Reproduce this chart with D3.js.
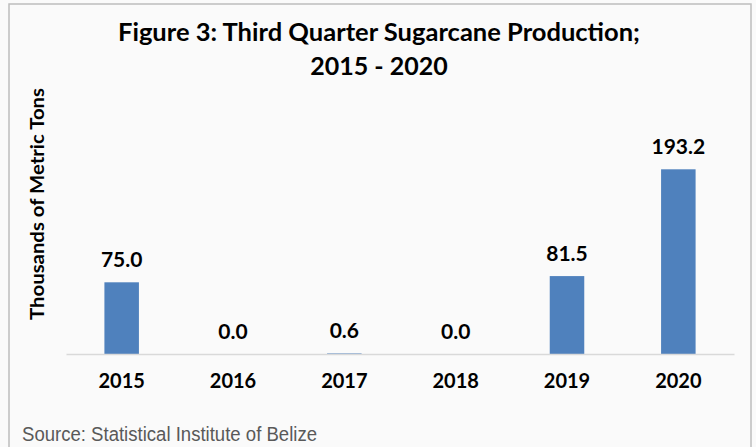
<!DOCTYPE html>
<html><head><meta charset="utf-8">
<script src="https://cdn.jsdelivr.net/npm/d3@7"></script>
<style>html,body{margin:0;padding:0;background:#fafafa;}svg{display:block;}</style>
</head><body>
<svg id="c" width="756" height="447"></svg>
<script>
const categories = ["2015","2016","2017","2018","2019","2020"];
const values = [75.0, 0.0, 0.6, 0.0, 81.5, 193.2];
const valueLabels = ["75.0","0.0","0.6","0.0","81.5","193.2"];
const titleLines = ["Figure 3: Third Quarter Sugarcane Production;", "2015 - 2020"];
const yTitle = "Thousands of Metric Tons";
const source = "Source: Statistical Institute of Belize";

const svg = d3.select("#c");
const font = "Lato, 'Open Sans', sans-serif";
svg.append("rect").attr("x",0).attr("y",0).attr("width",756).attr("height",447).attr("fill","#fafafa");
svg.append("rect").attr("x",9).attr("y",4).attr("width",742).attr("height",460)
  .attr("fill","#fafafa").attr("stroke","#bdbdbd").attr("stroke-width",1.5);

const x = d3.scaleBand().domain(categories).range([66,734]).paddingInner(0.69).paddingOuter(0.345);
const y = d3.scaleLinear().domain([0,200]).range([354,162.8]);

svg.append("g").selectAll("text").data(titleLines).join("text")
  .attr("x",379).attr("y",(d,i)=>41+i*34).attr("text-anchor","middle")
  .attr("font-family",font).attr("font-weight","bold").attr("font-size",25).attr("fill","#000")
  .attr("textLength",(d,i)=>i===0?522:null).attr("lengthAdjust","spacingAndGlyphs")
  .text(d=>d);

svg.append("g").selectAll("rect").data(values).join("rect")
  .attr("x",(d,i)=>x(categories[i])).attr("width",x.bandwidth())
  .attr("y",d=>y(d)).attr("height",d=>y(0)-y(d)).attr("fill","#4f81bd");

const xAxis = svg.append("g").attr("transform","translate(0,354)")
  .call(d3.axisBottom(x).tickSize(0).tickPadding(20));
xAxis.select(".domain").attr("stroke","#d9d9d9").attr("stroke-width",1.5);
xAxis.selectAll("text").attr("font-family",font).attr("font-weight","bold").attr("font-size",20).attr("fill","#000");

svg.append("g").selectAll("text").data(values).join("text")
  .attr("x",(d,i)=>x(categories[i])+x.bandwidth()/2).attr("y",d=>y(d)-15)
  .attr("text-anchor","middle").attr("font-family",font).attr("font-weight","bold")
  .attr("font-size",21).attr("fill","#000").text((d,i)=>valueLabels[i]);

svg.append("text").attr("transform","translate(44,204) rotate(-90)").attr("text-anchor","middle")
  .attr("font-family",font).attr("font-weight","bold").attr("font-size",18).attr("fill","#000")
  .attr("textLength",232).attr("lengthAdjust","spacingAndGlyphs").text(yTitle);

svg.append("text").attr("x",22).attr("y",441).attr("font-family","'Liberation Sans', Arial, sans-serif")
  .attr("font-size",20).attr("fill","#595959")
  .attr("textLength",295).attr("lengthAdjust","spacingAndGlyphs").text(source);
</script>
</body></html>
